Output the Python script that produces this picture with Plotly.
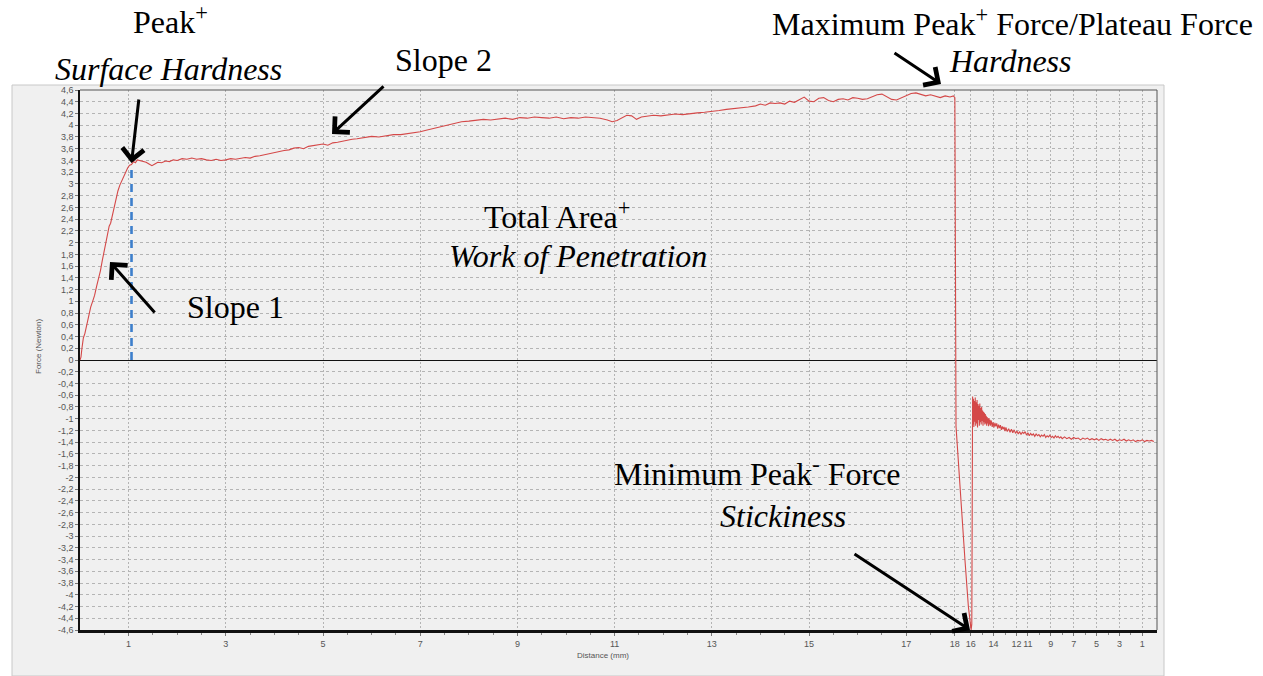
import plotly.graph_objects as go

# ---------------- data ----------------
# penetration stroke (distance in mm, force in N)
fwd_distance = [0.00, 0.02, 0.04, 0.07, 0.10, 0.14, 0.18, 0.22, 0.26, 0.30, 0.34, 0.38, 0.42, 0.46,
                0.50, 0.54, 0.57, 0.60, 0.63, 0.66, 0.70, 0.74, 0.78, 0.82, 0.86, 0.90, 0.94, 0.98,
                1.02, 1.06, 1.10, 1.14, 1.18, 1.24, 1.30, 1.36, 1.42, 1.48, 1.54, 1.60, 1.68, 1.76,
                1.84, 1.92, 2.00, 2.10, 2.20, 2.30, 2.40, 2.50, 2.60, 2.70, 2.80, 2.90, 3.00, 3.10,
                3.20, 3.30, 3.40, 3.50, 3.60, 3.70, 3.80, 3.90, 4.00, 4.10, 4.20, 4.30, 4.40, 4.50,
                4.60, 4.70, 4.80, 4.90, 5.00, 5.10, 5.20, 5.30, 5.40, 5.50, 5.60, 5.70, 5.80, 5.90,
                6.00, 6.15, 6.30, 6.45, 6.60, 6.75, 6.90, 7.00, 7.10, 7.25, 7.40, 7.55, 7.70, 7.85,
                8.00, 8.15, 8.30, 8.45, 8.60, 8.75, 8.90, 9.05, 9.20, 9.35, 9.50, 9.65, 9.80, 9.95,
                10.10, 10.25, 10.40, 10.55, 10.70, 10.85, 10.95, 11.05, 11.15, 11.25, 11.35, 11.45,
                11.55, 11.65, 11.80, 11.95, 12.10, 12.25, 12.40, 12.55, 12.70, 12.85, 13.00, 13.15,
                13.30, 13.45, 13.60, 13.75, 13.90, 14.00, 14.10, 14.20, 14.30, 14.40, 14.50, 14.60,
                14.70, 14.80, 14.90, 15.00, 15.10, 15.20, 15.30, 15.40, 15.50, 15.60, 15.70, 15.80,
                15.90, 16.00, 16.10, 16.20, 16.30, 16.40, 16.50, 16.60, 16.70, 16.80, 16.90, 17.00,
                17.10, 17.20, 17.30, 17.40, 17.50, 17.60, 17.70, 17.80, 17.90, 17.97, 18.00]
fwd_force = [0.00, 0.05, 0.20, 0.38, 0.45, 0.62, 0.78, 0.90, 1.00, 1.10, 1.25, 1.38, 1.52, 1.70,
             1.88, 2.05, 2.20, 2.28, 2.33, 2.45, 2.62, 2.76, 2.88, 2.98, 3.06, 3.13, 3.20, 3.27,
             3.32, 3.33, 3.38, 3.36, 3.41, 3.40, 3.39, 3.37, 3.34, 3.31, 3.34, 3.37, 3.36, 3.39,
             3.38, 3.41, 3.40, 3.43, 3.42, 3.44, 3.42, 3.43, 3.41, 3.40, 3.42, 3.40, 3.41, 3.43,
             3.42, 3.44, 3.45, 3.44, 3.47, 3.48, 3.50, 3.51, 3.53, 3.55, 3.57, 3.58, 3.61, 3.62,
             3.60, 3.64, 3.65, 3.67, 3.68, 3.66, 3.70, 3.71, 3.73, 3.74, 3.76, 3.77, 3.78, 3.80,
             3.81, 3.80, 3.82, 3.84, 3.84, 3.86, 3.87, 3.89, 3.91, 3.94, 3.97, 4.01, 4.04, 4.06,
             4.07, 4.08, 4.10, 4.09, 4.11, 4.12, 4.10, 4.13, 4.12, 4.14, 4.13, 4.12, 4.14, 4.11,
             4.13, 4.12, 4.14, 4.13, 4.12, 4.09, 4.06, 4.08, 4.13, 4.17, 4.16, 4.10,
             4.14, 4.15, 4.17, 4.16, 4.18, 4.19, 4.18, 4.20, 4.21, 4.22, 4.23, 4.25,
             4.27, 4.28, 4.30, 4.31, 4.33, 4.36, 4.34, 4.38, 4.37, 4.38, 4.36, 4.41,
             4.39, 4.44, 4.48, 4.41, 4.40, 4.46, 4.47, 4.42, 4.40, 4.44, 4.45, 4.43,
             4.47, 4.46, 4.44, 4.45, 4.49, 4.52, 4.53, 4.48, 4.44, 4.43, 4.47, 4.50,
             4.54, 4.55, 4.52, 4.50, 4.52, 4.49, 4.47, 4.50, 4.48, 4.50, 4.47]

# withdrawal stroke (distance labels count back from 18 mm to 0 mm)
ret_distance = [17.38, 17.28, 16.90, 16.50, 16.20, 16.05, 15.96, 15.90, 15.86, 15.83,
                15.80, 15.76, 15.72, 15.68, 15.64, 15.60, 15.56, 15.52, 15.48, 15.44, 15.40,
                15.36, 15.32, 15.28, 15.24, 15.20, 15.16, 15.12, 15.08, 15.04, 15.00, 14.96,
                14.92, 14.88, 14.84, 14.80, 14.76, 14.72, 14.68, 14.64, 14.60, 14.56, 14.52,
                14.48, 14.44, 14.40, 14.36, 14.32, 14.28,
                14.20, 14.12, 14.04, 13.96, 13.88, 13.80, 13.72, 13.64, 13.56, 13.48, 13.40,
                13.32, 13.24, 13.16, 13.08, 13.00, 12.92,
                12.80, 12.68, 12.56, 12.44, 12.32, 12.20, 12.08, 11.96, 11.84, 11.72, 11.60,
                11.48, 11.36, 11.24, 11.12, 11.00, 10.88, 10.76, 10.64, 10.52, 10.40, 10.28,
                10.16, 10.04, 9.92, 9.80, 9.68, 9.56, 9.44, 9.32, 9.20, 9.08, 8.96, 8.84, 8.72,
                8.60, 8.48, 8.36, 8.24, 8.12, 8.00,
                7.80, 7.60, 7.40, 7.20, 7.00, 6.80, 6.60, 6.40, 6.20, 6.00, 5.80, 5.60, 5.40,
                5.20, 5.00, 4.80, 4.60, 4.40, 4.20, 4.00, 3.80, 3.60, 3.40, 3.20, 3.00, 2.80,
                2.60, 2.40, 2.20, 2.00, 1.80, 1.60, 1.40, 1.20, 1.00, 0.80, 0.60, 0.40, 0.20, 0.00]
ret_force = [4.47, -1.13, -2.30, -3.40, -4.20, -4.53, -4.60, -4.50, -2.60, -0.62,
             -1.10, -0.66, -1.14, -0.70, -1.05, -0.64, -1.12, -0.72, -1.08, -0.68, -1.15,
             -0.75, -1.02, -0.78, -1.12, -0.74, -1.06, -0.82, -1.10, -0.80, -1.04, -0.86,
             -1.12, -0.88, -1.06, -0.90, -1.10, -0.92, -1.08, -0.95, -1.12, -0.97, -1.08,
             -1.00, -1.13, -0.99, -1.10, -1.02, -1.12,
             -1.03, -1.14, -1.06, -1.15, -1.07, -1.13, -1.08, -1.17, -1.10, -1.16, -1.11,
             -1.19, -1.13, -1.18, -1.14, -1.21, -1.15,
             -1.22, -1.17, -1.23, -1.18, -1.24, -1.19, -1.25, -1.21, -1.26, -1.22, -1.27,
             -1.23, -1.25, -1.22, -1.28, -1.24, -1.29, -1.25, -1.28, -1.26, -1.30, -1.26,
             -1.29, -1.27, -1.31, -1.28, -1.30, -1.27, -1.32, -1.29, -1.31, -1.28, -1.32, -1.30, -1.33,
             -1.29, -1.32, -1.30, -1.33, -1.31, -1.34,
             -1.31, -1.34, -1.32, -1.35, -1.32, -1.34, -1.33, -1.36, -1.33, -1.35, -1.33, -1.36, -1.34,
             -1.36, -1.34, -1.37, -1.34, -1.36, -1.35, -1.37, -1.35, -1.37, -1.35, -1.38, -1.36, -1.37,
             -1.35, -1.38, -1.36, -1.38, -1.36, -1.39, -1.37, -1.38, -1.36, -1.39, -1.37, -1.38, -1.37, -1.39]

peak_distance = 1.06
peak_force = 3.32

fwd_tick_labels = [1, 3, 5, 7, 9, 11, 13, 15, 17, 18]
ret_tick_labels = [16, 14, 12, 11, 9, 7, 5, 3, 1]

y_tick_values = [round(-4.6 + 0.2 * i, 1) for i in range(47)]

# ---------------- geometry helpers ----------------
TURN = 18.0            # end of penetration stroke (mm)
RET_START = 17.38      # label value where the withdrawal trace starts at the turn
RET_SCALE = 0.2355     # withdrawal stroke is drawn compressed


def ret_pos(d):
    return TURN + (RET_START - d) * RET_SCALE


X_END = ret_pos(-0.28)

x_all = list(fwd_distance) + [ret_pos(d) for d in ret_distance]
y_all = list(fwd_force) + list(ret_force)

tickvals = list(fwd_tick_labels) + [ret_pos(d) for d in ret_tick_labels]
ticktext = [str(v) for v in fwd_tick_labels] + [str(v) for v in ret_tick_labels]

minor_vals = [i * 0.5 for i in range(1, 36) if (i * 0.5) not in fwd_tick_labels]
minor_vals += [ret_pos(d) for d in range(15, 0, -1) if d not in ret_tick_labels]


def fmt(v):
    s = ('%.1f' % v).rstrip('0').rstrip('.')
    if s == '-0':
        s = '0'
    return s.replace('.', ',')


y_tick_text = [fmt(v) for v in y_tick_values]

# figure pixel geometry
W, H = 1263, 676
L, R, T, B = 80, 106, 90, 46
PW, PH = W - L - R, H - T - B


def px(x, y):
    return (x - L) / PW, (H - B - y) / PH


fig = go.Figure()

fig.add_trace(go.Scatter(
    x=x_all, y=y_all, mode='lines',
    line=dict(color='rgb(212,72,72)', width=1.1),
    hoverinfo='skip', showlegend=False))

fig.add_trace(go.Scatter(
    x=[peak_distance, peak_distance], y=[0, peak_force], mode='lines',
    line=dict(color='#3d7fcc', width=2.6, dash='8px,6px'),
    hoverinfo='skip', showlegend=False))

# ---------------- layout ----------------
grid_col = '#b4b4b4'
fig.update_layout(
    width=W, height=H,
    margin=dict(l=L, r=R, t=T, b=B, autoexpand=False),
    paper_bgcolor='white',
    plot_bgcolor='#f0f0f0',
    showlegend=False,
    xaxis=dict(
        range=[0, X_END], tickmode='array', tickvals=tickvals, ticktext=ticktext,
        tickangle=0,
        showgrid=True, gridcolor=grid_col, gridwidth=1, griddash='2px,2px',
        showline=True, linecolor='#111', linewidth=2.5,
        ticks='outside', ticklen=3, tickcolor='#777', tickwidth=1,
        tickfont=dict(family='Liberation Sans, Arial', size=9, color='#555'),
        minor=dict(tickmode='array', tickvals=minor_vals, ticks='outside', ticklen=2,
                   tickcolor='#888', showgrid=False),
        zeroline=False, fixedrange=True),
    yaxis=dict(
        range=[-4.6, 4.6], tickmode='array', tickvals=y_tick_values, ticktext=y_tick_text,
        showgrid=True, gridcolor=grid_col, gridwidth=1, griddash='3px,3px',
        showline=True, linecolor='#111', linewidth=1.5,
        ticks='outside', ticklen=3, tickcolor='#777', tickwidth=1,
        tickfont=dict(family='Liberation Sans, Arial', size=9, color='#555'),
        zeroline=True, zerolinecolor='#111', zerolinewidth=1.2, fixedrange=True),
)

# outer grey screenshot panel, top & right plot frame
x0p, y0p = px(12, 85)
x1p, y1p = px(1164, 676)
fig.add_shape(type='rect', xref='paper', yref='paper', x0=x0p, y0=y1p, x1=x1p, y1=y0p,
              fillcolor='#f0f0f0', line=dict(color='#c8c8c8', width=1), layer='below')
fig.add_shape(type='line', xref='paper', yref='paper', x0=0, x1=1, y0=1, y1=1,
              line=dict(color='#555', width=1))
fig.add_shape(type='line', xref='paper', yref='paper', x0=1, x1=1, y0=0, y1=1,
              line=dict(color='#555', width=1))

# axis titles
ax_font = dict(family='Liberation Sans, Arial', size=8, color='#555')
tx, ty = px(603, 655)
fig.add_annotation(xref='paper', yref='paper', x=tx, y=ty, text='Distance (mm)',
                   showarrow=False, font=ax_font, xanchor='center', yanchor='middle')
tx, ty = px(38, 347)
fig.add_annotation(xref='paper', yref='paper', x=tx, y=ty, text='Force (Newton)', textangle=-90,
                   showarrow=False, font=ax_font, xanchor='center', yanchor='middle')

# descriptive labels
serif = dict(family='Liberation Serif, Times New Roman, serif', size=32, color='black')
labels = [
    ('Peak<sup>+</sup>', 170, 20),
    ('<i>Surface Hardness</i>', 168, 69),
    ('Slope 2', 443, 60),
    ('Maximum Peak<sup>+</sup> Force/Plateau Force', 1012, 22),
    ('<i>Hardness</i>', 1010, 61),
    ('Total Area<sup>+</sup>', 557, 215),
    ('<i>Work of Penetration</i>', 578, 256),
    ('Slope 1', 235, 307),
    ('Minimum Peak<sup>-</sup> Force', 757, 472),
    ('<i>Stickiness</i>', 783, 516),
]
for text, cx, cy in labels:
    x, y = px(cx, cy)
    fig.add_annotation(xref='paper', yref='paper', x=x, y=y, text=text, showarrow=False,
                       font=serif, xanchor='center', yanchor='middle')

# arrows: (head_x, head_y, tail_x, tail_y) in pixels
arrows = [
    (131.5, 163, 139, 98),
    (110, 262, 156, 314),
    (332, 134, 385, 85),
    (941, 84, 893, 52),
    (970, 630, 853, 553),
]
for hx, hy, tx_, ty_ in arrows:
    x, y = px(hx, hy)
    fig.add_annotation(xref='paper', yref='paper', x=x, y=y, text='', showarrow=True,
                       ax=tx_ - hx, ay=ty_ - hy, axref='pixel', ayref='pixel',
                       arrowhead=4, arrowsize=1.4, arrowwidth=3, arrowcolor='black',
                       standoff=0, startstandoff=0)

fig.write_html('out.html', config={'displayModeBar': False},
               post_script="document.body.style.margin='0';document.body.style.overflow='hidden';")
